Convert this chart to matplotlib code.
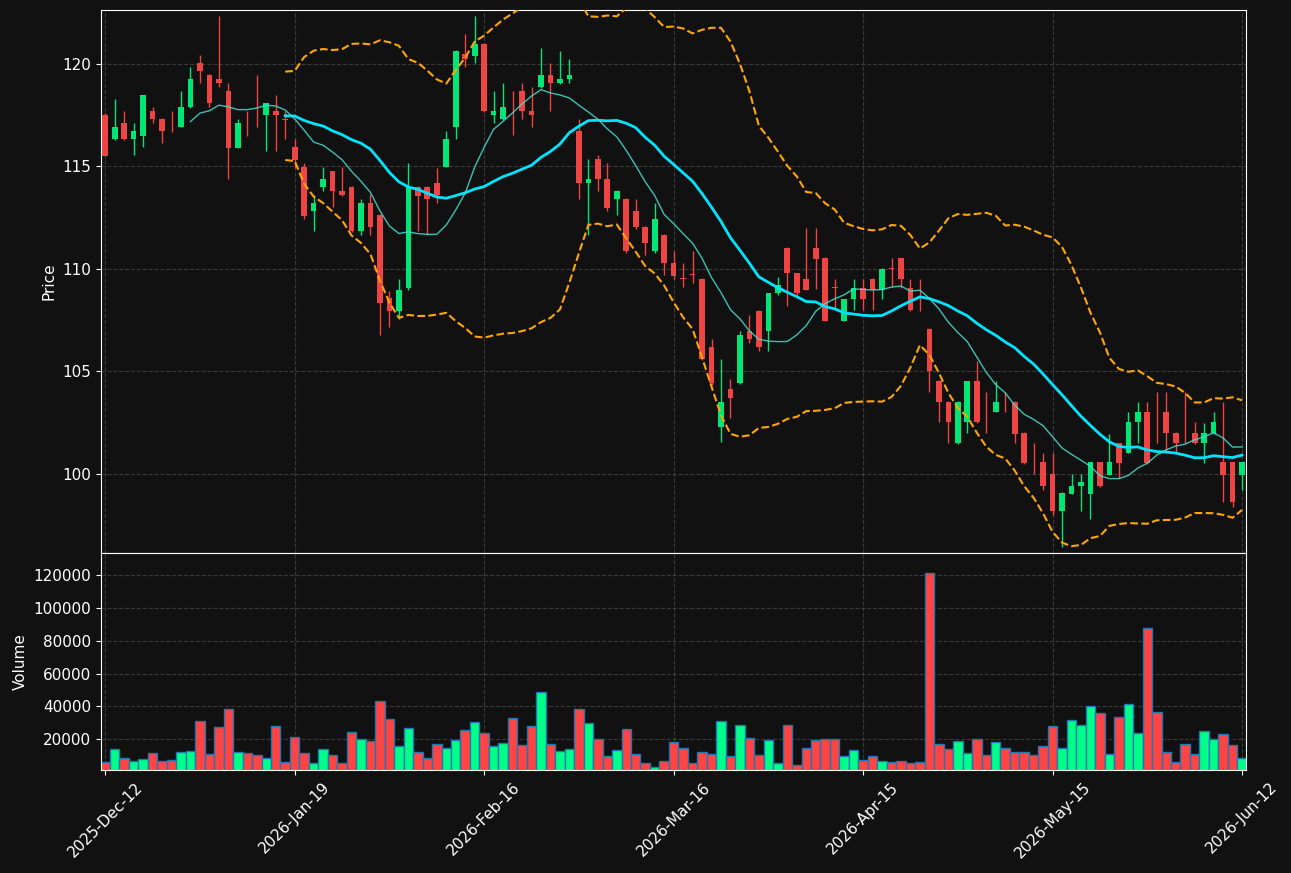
import numpy as np
import pandas as pd
import matplotlib
matplotlib.use("Agg")
import matplotlib.pyplot as plt

# 일봉 데이터
opens = [117.53, 116.32, 117.14, 116.32, 116.5, 117.71, 117.32, 116.75, 116.92, 117.88,
         120.07, 119.47, 119.27, 118.69, 115.92, 117.32, 117.53, 117.49, 117.71, 117.32,
         115.97, 114.98, 112.81, 113.98, 114.8, 113.81, 114.02, 111.83, 113.24, 112.64,
         108.58, 107.93, 109.05, 114.0, 114.0, 114.2, 114.97, 116.92, 120.47, 120.41,
         120.97, 117.49, 117.3, 117.71, 118.69, 117.69, 118.88, 119.47, 119.05, 119.25,
         116.75, 114.17, 115.36, 114.39, 113.39, 113.41, 112.85, 112.05, 110.86, 111.66,
         110.27, 109.53, 109.73, 109.51, 106.2, 102.31, 104.12, 104.42, 106.97, 107.97,
         106.98, 108.81, 111.02, 109.8, 109.51, 111.02, 110.54, 109.1, 107.47, 108.54,
         109.05, 109.53, 108.98, 110.03, 110.51, 109.05, 108.0, 107.05, 104.54, 103.53,
         101.49, 102.54, 104.54, 102.53, 103.02, 104.0, 103.53, 102.0, 101.03, 100.56,
         100.02, 98.19, 99.03, 99.39, 99.03, 100.56, 99.97, 101.49, 101.02, 102.51,
         103.02, 103.02, 103.02, 102.0, 101.52, 102.0, 101.49, 102.0, 100.56, 100.56,
         99.97]
highs = [117.6, 118.29, 117.7, 117.14, 118.49, 117.9, 117.35, 117.7, 118.68, 119.85,
         120.44, 119.5, 122.34, 119.07, 117.3, 117.7, 119.47, 118.1, 118.49, 117.7,
         116.32, 115.19, 113.63, 114.98, 114.8, 114.98, 114.05, 113.41, 113.66, 112.7,
         108.92, 109.51, 115.19, 114.05, 114.05, 114.93, 116.71, 120.7, 121.48, 122.34,
         121.0, 118.66, 119.05, 118.66, 119.05, 118.88, 120.78, 120.05, 120.61, 120.22,
         117.3, 115.36, 115.56, 115.19, 113.85, 113.45, 113.41, 112.1, 113.2, 111.7,
         110.86, 110.27, 110.86, 109.55, 106.58, 105.61, 104.63, 106.97, 107.76, 108.0,
         108.85, 109.63, 111.05, 109.82, 111.98, 111.98, 110.56, 109.51, 108.54, 109.51,
         109.51, 109.55, 110.05, 110.51, 110.55, 109.51, 109.51, 107.1, 104.6, 103.55,
         103.55, 104.55, 105.49, 104.0, 104.51, 104.02, 103.55, 102.05, 101.49, 101.02,
         101.02, 99.1, 100.0, 100.0, 100.6, 100.6, 101.97, 101.5, 103.02, 103.53,
         103.53, 104.0, 104.0, 102.05, 104.0, 102.54, 102.5, 103.02, 103.53, 100.6,
         100.56]
lows = [115.5, 116.3, 116.3, 115.56, 115.95, 117.1, 116.12, 116.7, 116.9, 117.85,
        119.07, 117.9, 118.88, 114.37, 115.9, 116.5, 116.92, 115.73, 115.73, 116.32,
        114.93, 112.42, 111.85, 113.78, 113.02, 113.55, 111.8, 111.66, 111.66, 106.8,
        107.17, 107.56, 108.95, 111.85, 111.66, 113.24, 114.95, 116.34, 119.85, 120.05,
        117.65, 117.1, 117.25, 116.54, 117.3, 116.92, 118.85, 117.7, 119.0, 119.05,
        113.39, 111.66, 113.8, 112.81, 112.64, 110.8, 111.95, 110.69, 110.8, 109.71,
        109.51, 109.12, 109.31, 105.55, 104.35, 101.58, 102.73, 104.4, 106.37, 106.0,
        105.98, 108.75, 108.2, 108.75, 108.95, 109.0, 107.45, 108.07, 107.45, 107.98,
        107.98, 107.98, 108.54, 109.1, 109.08, 107.95, 107.95, 104.0, 102.54, 101.51,
        101.45, 102.0, 102.5, 102.0, 103.0, 103.02, 101.49, 100.5, 100.0, 99.2,
        97.98, 96.46, 99.0, 98.19, 97.8, 99.35, 99.95, 99.8, 101.0, 101.49,
        100.5, 101.49, 101.02, 101.02, 101.49, 101.45, 100.53, 101.95, 98.61, 98.41,
        99.2]
closes = [115.53, 116.93, 116.32, 116.75, 118.49, 117.3, 116.71, 116.71, 117.9, 119.27,
          119.64, 118.08, 119.05, 115.92, 117.14, 117.3, 117.5, 118.1, 117.49, 117.29,
          115.32, 112.59, 113.24, 114.39, 113.78, 113.59, 111.83, 113.24, 112.03, 108.32,
          107.93, 108.95, 114.0, 113.58, 113.39, 113.63, 116.34, 120.64, 120.22, 120.97,
          117.69, 117.69, 117.9, 117.69, 117.69, 117.49, 119.47, 119.05, 119.25, 119.47,
          114.17, 114.39, 114.37, 112.98, 113.81, 110.86, 112.03, 111.25, 112.46, 110.27,
          109.68, 109.51, 109.71, 105.61, 104.42, 103.53, 103.69, 106.78, 106.58, 106.17,
          108.83, 109.22, 109.79, 108.81, 108.98, 110.5, 107.47, 109.08, 108.54, 109.05,
          108.54, 108.98, 110.02, 110.0, 109.49, 107.98, 107.98, 105.02, 103.49, 102.51,
          103.53, 104.54, 102.51, 102.51, 103.53, 103.98, 101.97, 100.53, 101.0, 99.39,
          98.19, 99.05, 99.42, 99.63, 100.56, 99.39, 100.56, 100.53, 102.54, 103.02,
          100.53, 103.0, 102.0, 101.49, 101.49, 101.49, 102.0, 102.54, 99.97, 98.61,
          100.56]
volumes = [5945, 13890, 8390, 6556, 7778, 11445, 6556, 7167, 12056, 12667,
           31000, 10834, 27333, 38333, 12056, 11445, 10222, 8390, 27944, 5945,
           21222, 11445, 5333, 13890, 10222, 5333, 24278, 20000, 18778, 43222,
           32222, 15722, 26722, 12056, 8390, 16945, 14500, 19389, 25500, 30389,
           23667, 15722, 17556, 32833, 16537, 27944, 48722, 16945, 12667, 13890,
           38333, 29778, 20000, 9611, 13278, 26111, 10834, 5333, 3296, 6556,
           18167, 14500, 5333, 12056, 10834, 31000, 9611, 28555, 20611, 10222,
           19389, 5333, 28555, 4111, 14500, 19389, 20000, 20000, 9611, 13278,
           7167, 9611, 6556, 5945, 6556, 5333, 5945, 121443, 16945, 13890,
           18778, 11445, 20000, 10222, 18167, 14500, 12056, 12056, 10222, 15722,
           27944, 14500, 31611, 28555, 40167, 35889, 10834, 33444, 41389, 23667,
           87833, 36500, 12056, 5945, 16945, 10834, 24889, 20000, 23056, 16334,
           8390]
tick_labels = ["2025-Dec-12", "2026-Jan-19", "2026-Feb-16", "2026-Mar-16",
               "2026-Apr-15", "2026-May-15", "2026-Jun-12"]

df = pd.DataFrame({"Open": opens, "High": highs, "Low": lows,
                   "Close": closes, "Volume": volumes})
df["sma10"] = df["Close"].rolling(10).mean()
df["sma20"] = df["Close"].rolling(20).mean()
std20 = df["Close"].rolling(20).std()
df["upper"] = df["sma20"] + 2 * std20
df["lower"] = df["sma20"] - 2 * std20

n = len(df)
x = np.arange(n)
up = df["Close"] >= df["Open"]
candle_colors = np.where(up, "#00e676", "#ef4444")
vol_colors = np.where(up, "#00ff88", "#ff4444")

bg = "#111111"
fig, (ax1, ax2) = plt.subplots(2, 1, figsize=(12.91, 8.73), dpi=100, sharex=True,
                               gridspec_kw={"height_ratios": [2.5, 1], "hspace": 0})
fig.patch.set_facecolor(bg)
fig.subplots_adjust(left=0.0782, right=0.965, top=0.9885, bottom=0.118)

# 캔들
ax1.vlines(x, df["Low"], df["High"], color=candle_colors, lw=1, zorder=2)
body = np.maximum((df["Close"] - df["Open"]).abs(), 0.03)
ax1.bar(x, body, bottom=np.minimum(df["Open"], df["Close"]), width=0.6,
        color=candle_colors, zorder=3)
# 이동평균, 볼린저밴드
ax1.plot(x, df["sma20"], color="#00e5ff", lw=2, zorder=4)
ax1.plot(x, df["sma10"], color="#40e0d0", lw=1, alpha=0.85, zorder=4)
ax1.plot(x, df["upper"], color="orange", ls="--", lw=1.5, zorder=4)
ax1.plot(x, df["lower"], color="orange", ls="--", lw=1.5, zorder=4)
ax1.set_ylim(96.15, 122.63)
ax1.set_ylabel("Price", color="white", fontsize=11)

# 거래량
ax2.bar(x, df["Volume"], width=1.0, color=vol_colors, edgecolor="#1f77b4", linewidth=1)
ax2.set_ylim(1300, df["Volume"].max() * 1.1)
ax2.set_ylabel("Volume", color="white", fontsize=11)

ax2.set_xlim(-0.45, n - 1 + 0.4)
ax2.set_xticks(np.arange(0, n, 20))
ax2.set_xticklabels(tick_labels, rotation=45)

for ax in (ax1, ax2):
    ax.set_facecolor(bg)
    ax.grid(True, ls="--", color="#555555", alpha=0.6, lw=0.8)
    ax.set_axisbelow(True)
    ax.tick_params(colors="white", labelsize=11)
    for s in ax.spines.values():
        s.set_color("white")
ax1.tick_params(axis="x", labelbottom=False)

fig.savefig("out.png", facecolor=bg)
